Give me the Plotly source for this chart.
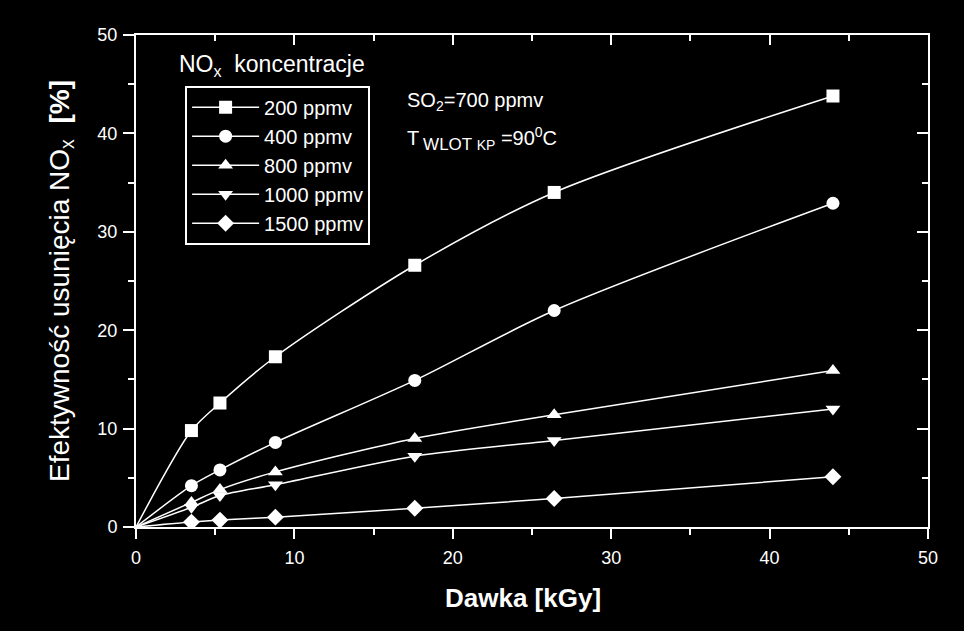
import plotly.graph_objects as go

dose = [3.5, 5.3, 8.8, 17.6, 26.4, 44.0]
series_names = ["200 ppmv", "400 ppmv", "800 ppmv", "1000 ppmv", "1500 ppmv"]
eff_200 = [9.8, 12.6, 17.3, 26.6, 34.0, 43.8]
eff_400 = [4.2, 5.8, 8.6, 14.9, 22.0, 32.9]
eff_800 = [2.5, 3.8, 5.6, 9.0, 11.4, 15.9]
eff_1000 = [2.0, 3.2, 4.3, 7.2, 8.8, 12.0]
eff_1500 = [0.5, 0.7, 1.0, 1.9, 2.9, 5.1]
symbols = ["square", "circle", "triangle-up", "triangle-down", "diamond"]
all_eff = [eff_200, eff_400, eff_800, eff_1000, eff_1500]

FONT = "Liberation Sans, Arial, sans-serif"
fig = go.Figure()
for name, ys, sym in zip(series_names, all_eff, symbols):
    # fitted curve through the origin
    fig.add_trace(go.Scatter(
        x=[0] + dose, y=[0] + ys, mode="lines", showlegend=False,
        line=dict(color="white", width=1.5, shape="spline", smoothing=0.8),
    ))
    # measured points
    fig.add_trace(go.Scatter(
        x=dose, y=ys, mode="markers", showlegend=False,
        marker=dict(symbol=sym, color="white", size=13, opacity=1, line=dict(width=0)),
    ))
    # legend entry
    fig.add_trace(go.Scatter(
        x=[None], y=[None], name=name, mode="lines+markers",
        line=dict(color="white", width=1.5),
        marker=dict(symbol=sym, color="white", size=13, opacity=1, line=dict(width=0)),
    ))
# invisible trace to anchor the mirrored top/right axes
fig.add_trace(go.Scatter(x=[0], y=[0], xaxis="x2", yaxis="y2", mode="markers",
                         marker=dict(opacity=0), showlegend=False, hoverinfo="skip"))

tickfont = dict(family=FONT, size=18, color="white")
base = dict(showgrid=False, zeroline=False, showline=True, linecolor="white", linewidth=2,
            tickwidth=2, tickcolor="white", dtick=10, tick0=0, range=[0, 50])
fig.update_layout(
    xaxis=dict(**base, ticks="outside", ticklen=10, tickfont=tickfont,
               minor=dict(ticks="outside", ticklen=6, tickwidth=2, tickcolor="white", dtick=5),
               ticklabelstandoff=3),
    yaxis=dict(**base, ticks="outside", ticklen=11, tickfont=tickfont,
               minor=dict(ticks="outside", ticklen=6, tickwidth=2, tickcolor="white", dtick=5),
               ticklabelstandoff=2,
               title=dict(text="Efektywność usunięcia NO<sub>x</sub>  <b>[%]</b>",
                          font=dict(family=FONT, size=28, color="white"), standoff=20)),
    xaxis2=dict(**base, overlaying="x", side="top", anchor="y2", ticks="inside", ticklen=10,
                showticklabels=False,
                minor=dict(ticks="inside", ticklen=6, tickwidth=2, tickcolor="white", dtick=5)),
    yaxis2=dict(**base, overlaying="y", side="right", anchor="x2", ticks="inside", ticklen=11,
                showticklabels=False,
                minor=dict(ticks="inside", ticklen=6, tickwidth=2, tickcolor="white", dtick=5)),
)

# x-axis title
fig.add_annotation(x=0.489, y=-0.145, xref="paper", yref="paper", xanchor="center", yanchor="middle",
                   text="<b>Dawka [kGy]</b>", showarrow=False,
                   font=dict(family=FONT, size=26, color="white"))
fig.add_annotation(x=0.052, y=0.937, xref="paper", yref="paper", xanchor="left", yanchor="middle",
                   text="NO<sub>x</sub>  koncentracje", showarrow=False,
                   font=dict(family=FONT, size=23, color="white"))
fig.add_annotation(x=0.34, y=0.864, xref="paper", yref="paper", xanchor="left", yanchor="middle",
                   text="SO<sub>2</sub>=700 ppmv", showarrow=False,
                   font=dict(family=FONT, size=20, color="white"))
fig.add_annotation(x=0.34, y=0.789, xref="paper", yref="paper", xanchor="left", yanchor="middle",
                   text="T<sub> <span style='font-size:17px'>WLOT </span></sub><sub><span style='font-size:14px'>KP</span></sub> =90<sup>0</sup>C",
                   showarrow=False, font=dict(family=FONT, size=20, color="white"))

fig.update_layout(
    width=964, height=631,
    paper_bgcolor="black", plot_bgcolor="black",
    margin=dict(l=136, r=36, t=35, b=104),
    showlegend=True,
    legend=dict(x=0.062, y=0.897, xanchor="left", yanchor="top",
                bgcolor="black", bordercolor="white", borderwidth=2,
                font=dict(family=FONT, size=20, color="white"),
                itemwidth=67),
)
fig.write_html("out.html", config={"displayModeBar": False},
               post_script="document.body.style.margin='0';document.body.style.background='black';")
